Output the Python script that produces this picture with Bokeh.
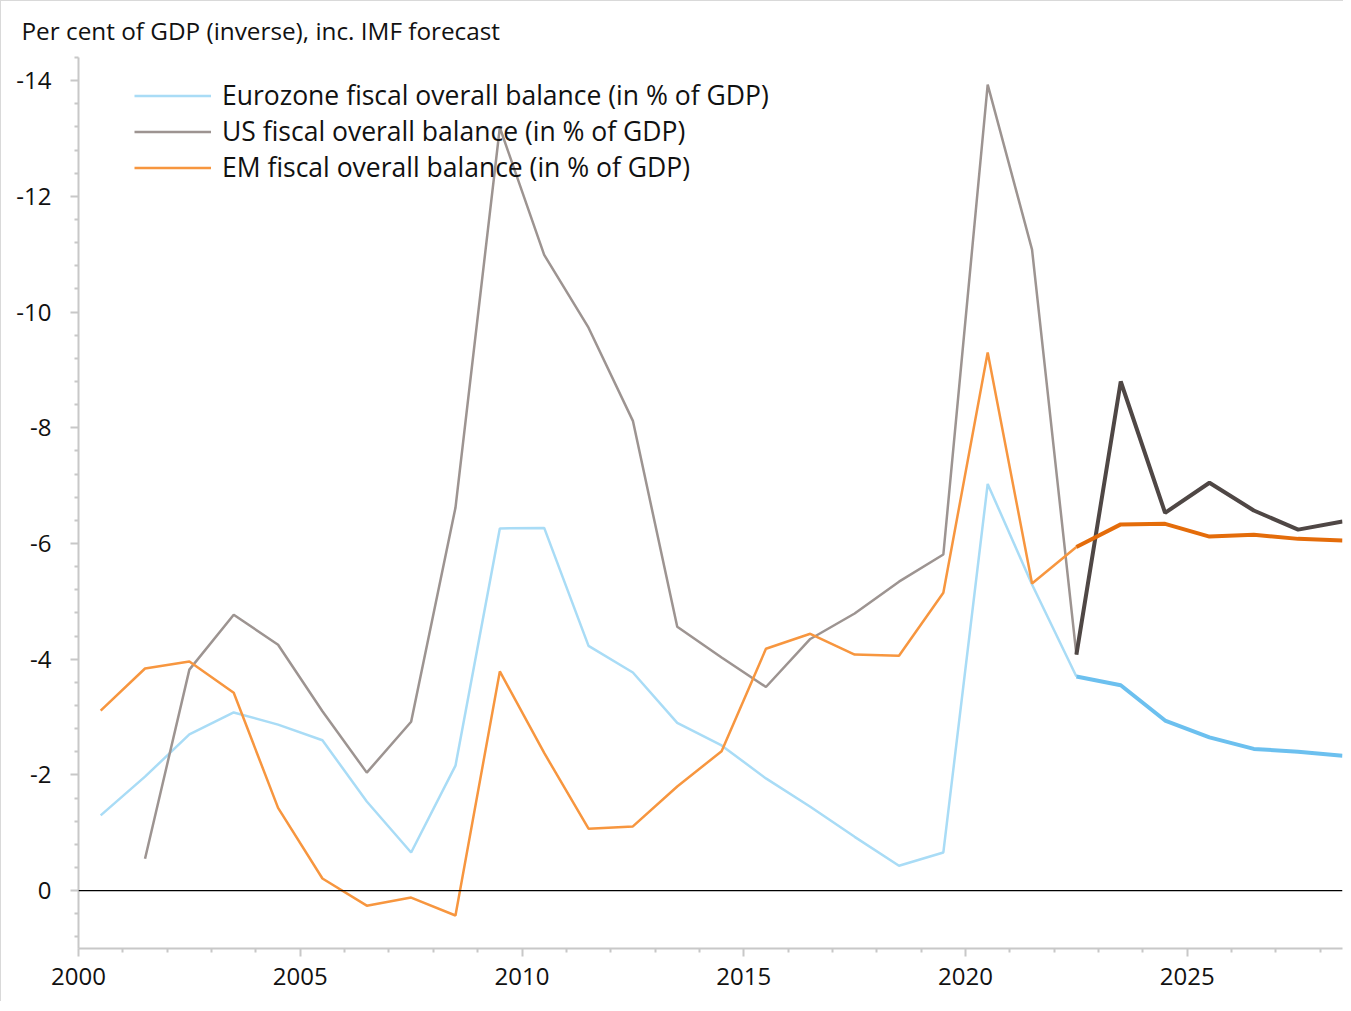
import math
from bokeh.plotting import figure
from bokeh.models import Range1d, FixedTicker, Span, Legend, LegendItem
from bokeh.embed import file_html
from bokeh.resources import INLINE

# ---- data ----
years = [2000.5 + i for i in range(29)]  # 2000.5 .. 2028.5
eurozone = [-1.30, -1.97, -2.70, -3.08, -2.87, -2.60, -1.54, -0.66, -2.16, -6.26,
            -6.27, -4.23, -3.77, -2.90, -2.51, -1.94, -1.45, -0.93, -0.43, -0.66,
            -7.03, -5.29, -3.70, -3.55, -2.94, -2.65, -2.45, -2.40, -2.33]
us = [float("nan"), -0.55, -3.82, -4.77, -4.25, -3.10, -2.04, -2.92, -6.62, -13.19,
      -10.99, -9.73, -8.12, -4.56, -4.03, -3.52, -4.35, -4.79, -5.34, -5.81,
      -13.93, -11.08, -4.08, -8.80, -6.53, -7.05, -6.57, -6.24, -6.38]
em = [-3.11, -3.84, -3.96, -3.42, -1.43, -0.21, 0.26, 0.12, 0.43, -3.79,
      -2.38, -1.07, -1.11, -1.80, -2.41, -4.18, -4.44, -4.08, -4.06, -5.15,
      -9.30, -5.31, -5.94, -6.33, -6.34, -6.12, -6.15, -6.08, -6.05]
forecast_start = 2022.5
series_names = ["Eurozone fiscal overall balance (in % of GDP)",
                "US fiscal overall balance (in % of GDP)",
                "EM fiscal overall balance (in % of GDP)"]
x_major = [2000, 2005, 2010, 2015, 2020, 2025]
y_major = [-14, -12, -10, -8, -6, -4, -2, 0]
title_text = "Per cent of GDP (inverse), inc. IMF forecast"

FONT = "Open Sans"

p = figure(width=1343, height=1001, output_backend="svg", toolbar_location=None,
           x_range=Range1d(2000, 2028.5), y_range=Range1d(1.0, -14.4),
           min_border_left=77, min_border_right=2, min_border_top=56,
           min_border_bottom=54)
p.outline_line_color = None
p.xgrid.visible = False
p.ygrid.visible = False
p.background_fill_color = "white"
p.border_fill_color = "white"
p.styles = {"border-top": "1px solid #d9d9d9", "border-left": "1px solid #d9d9d9"}

p.title.text = title_text
p.title.align = "left"
p.title.offset = -57
p.title.standoff = 21
p.title.text_font = FONT
p.title.text_font_size = "24.3px"
p.title.text_font_style = "normal"
p.title.text_color = "#111111"

# axes
for ax in (p.xaxis[0], p.yaxis[0]):
    ax.axis_line_color = "#c8c8c8"
    ax.axis_line_width = 2
    ax.major_tick_line_color = "#c8c8c8"
    ax.minor_tick_line_color = "#c8c8c8"
    ax.major_tick_line_width = 2
    ax.minor_tick_line_width = 2
    ax.major_tick_in = 0
    ax.major_tick_out = 8
    ax.minor_tick_in = 0
    ax.minor_tick_out = 4
    ax.major_label_text_font = FONT
    ax.major_label_text_font_size = "24px"
    ax.major_label_text_color = "#111111"

minor_x = [y for y in range(2000, 2029) if y % 5 != 0]
p.xaxis[0].ticker = FixedTicker(ticks=x_major, minor_ticks=minor_x)
p.xaxis[0].major_label_standoff = 11
minor_y = [round(-14.4 + 0.4 * i, 1) for i in range(39)]
minor_y = [v for v in minor_y if all(abs(v - m) > 1e-6 for m in y_major)]
p.yaxis[0].ticker = FixedTicker(ticks=y_major, minor_ticks=minor_y)
p.yaxis[0].major_label_overrides = {v: str(v) for v in y_major}
p.yaxis[0].major_label_standoff = 19

p.add_layout(Span(location=0, dimension="width", line_color="black", line_width=1.2))

hist_colors = ["#a9dcf6", "#9d9491", "#f7963f"]
fc_colors = ["#6cc0ef", "#4f4745", "#e46c0a"]
datasets = [eurozone, us, em]

idx = years.index(forecast_start)
legend_items = []
for name, vals, hc, fc in zip(series_names, datasets, hist_colors, fc_colors):
    r = p.line(years[:idx + 1], vals[:idx + 1], line_color=hc, line_width=2.5)
    p.line(years[idx:], vals[idx:], line_color=fc, line_width=4)
    legend_items.append(LegendItem(label=name, renderers=[r]))

legend = Legend(items=legend_items, location=(56, 763), orientation="vertical",
                glyph_width=77, glyph_height=35, label_height=35, label_standoff=11,
                spacing=0, padding=0, margin=0, background_fill_alpha=0,
                border_line_alpha=0, label_text_font=FONT,
                label_text_font_size="26.5px", label_text_color="#111111")
p.add_layout(legend)

open("out.html", "w").write(file_html(p, INLINE))
